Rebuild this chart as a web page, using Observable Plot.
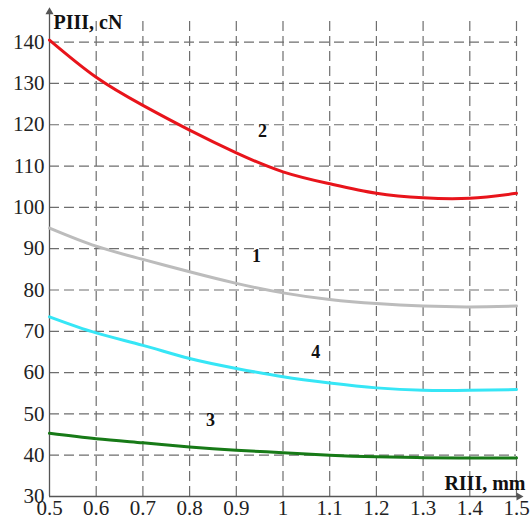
<!DOCTYPE html>
<html><head><meta charset="utf-8">
<script src="https://cdn.jsdelivr.net/npm/d3@7"></script>
<script src="https://cdn.jsdelivr.net/npm/@observablehq/plot@0.6"></script>
<style>body{margin:0;background:#fff}</style>
</head><body><div id="chart"></div>
<script>
const rIII = [0.5,0.6,0.7,0.8,0.9,1.0,1.1,1.2,1.3,1.4,1.5];
const curve1 = [95.0,90.6,87.4,84.4,81.6,79.3,77.7,76.7,76.1,75.9,76.1];
const curve2 = [140.5,131.5,124.7,118.7,113.2,108.6,105.7,103.4,102.3,102.2,103.4];
const curve3 = [45.3,44.0,43.0,42.0,41.2,40.6,40.0,39.6,39.4,39.3,39.3];
const curve4 = [73.5,69.6,66.6,63.4,61.0,59.0,57.5,56.3,55.7,55.7,55.9];
const seriesNames = ["1","2","3","4"];
const seriesColors = ["#bcbcbc","#e8141b","#177a17","#36e6f6"];
const labelX = [0.943,0.956,0.845,1.07];
const labelY = [88.2,118.5,48.5,64.9];
const xTicks = [0.5,0.6,0.7,0.8,0.9,1.0,1.1,1.2,1.3,1.4,1.5];
const yTicks = [30,40,50,60,70,80,90,100,110,120,130,140];
const yLabel = "PIII, cN";
const xLabel = "RIII, mm";

const allCurves = [curve1, curve2, curve3, curve4];
const rows = [];
allCurves.forEach((c, i) => c.forEach((v, j) => rows.push({s: seriesNames[i], x: rIII[j], y: v})));
const labels = seriesNames.map((s, i) => ({s, x: labelX[i], y: labelY[i]}));

const serif = "'Liberation Serif', 'Times New Roman', serif";
const gridColor = "#6e6e6e";
const axisColor = "#555";

const chart = Plot.plot({
  width: 532, height: 520,
  marginLeft: 49, marginRight: 16, marginTop: 21, marginBottom: 24,
  style: {fontFamily: serif, fontSize: "21px", color: "#222", background: "#fff"},
  x: {domain: [0.5, 1.5], axis: null},
  y: {domain: [30, 145], axis: null},
  color: {domain: seriesNames, range: seriesColors},
  marks: [
    Plot.ruleY(yTicks.filter(t => t > 30), {x1: 0.5, x2: 1.5, stroke: gridColor, strokeWidth: 1.2, strokeDasharray: "10,5"}),
    Plot.ruleX(xTicks.filter(t => t > 0.5), {y1: 30, y2: 145, stroke: gridColor, strokeWidth: 1.2, strokeDasharray: "10,5"}),
    Plot.ruleX([0.5], {y1: 30, y2: 147.3, stroke: axisColor, strokeWidth: 1.3}),
    Plot.ruleY([30], {x1: 0.5, x2: 1.505, stroke: axisColor, strokeWidth: 1.3}),
    Plot.dot([0], {x: 0.5, y: 147.3, symbol: "triangle", r: 3, fill: axisColor, stroke: null}),
    Plot.dot([0], {x: 1.505, y: 30, symbol: "triangle", r: 3, rotate: 90, fill: axisColor, stroke: null}),
    Plot.axisY(yTicks, {tickSize: 0, tickPadding: 5, fontSize: 21, fill: "#222", label: null}),
    Plot.axisX(xTicks, {tickSize: 0, tickPadding: 4, fontSize: 21, fill: "#222", label: null, tickFormat: d => String(d)}),
    Plot.line(rows, {x: "x", y: "y", z: "s", stroke: "s", strokeWidth: 3, curve: "natural"}),
    Plot.text(labels, {x: "x", y: "y", text: "s", fontWeight: "bold", fontSize: 18, fill: "#111"}),
    Plot.text([yLabel], {x: 0.5, y: 145, text: d => d, textAnchor: "start", dx: 4, dy: 1, fontWeight: "bold", fontSize: 20, fill: "#111"}),
    Plot.text([xLabel], {x: 1.5, y: 33.1, text: d => d, textAnchor: "end", dx: 9, fontWeight: "bold", fontSize: 20, fill: "#111"})
  ]
});
document.getElementById("chart").appendChild(chart);
</script>
</body></html>
